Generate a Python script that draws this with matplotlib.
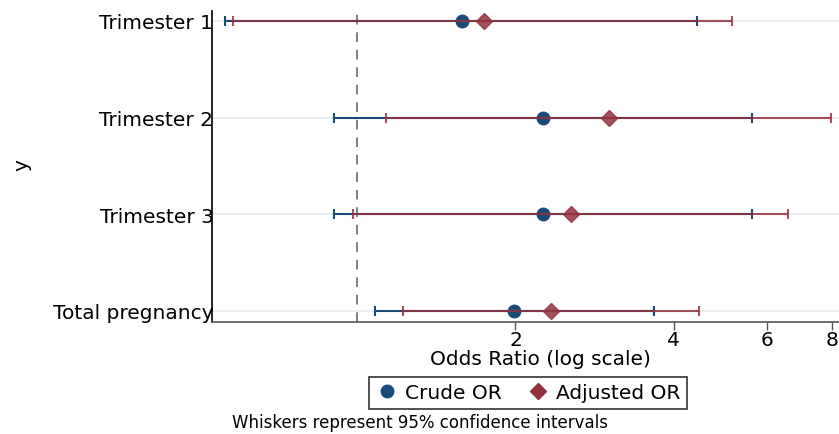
import matplotlib
matplotlib.use('Agg')
import matplotlib.pyplot as plt
from matplotlib.lines import Line2D

labels = ['Trimester 1', 'Trimester 2', 'Trimester 3', 'Total pregnancy']
ypos = [3, 2, 1, 0]

crude_or = [1.585, 2.26, 2.26, 1.99]
crude_lo = [0.562, 0.904, 0.904, 1.08]
crude_hi = [4.43, 5.63, 5.63, 3.66]

adj_or = [1.746, 3.01, 2.55, 2.34]
adj_lo = [0.582, 1.135, 0.984, 1.22]
adj_hi = [5.17, 7.97, 6.60, 4.46]

xticks = [2, 4, 6, 8]

blue = '#1c4a78'
red = '#93323f'

fig = plt.figure(figsize=(8.39, 4.35), dpi=100)
ax = fig.add_axes([212/839, 112/435, 627/839, 311/435])

# light horizontal guides
for y in ypos:
    ax.axhline(y, color='#e9eef2', lw=1.5, zorder=0)

ax.axvline(1, color='#808080', lw=1.4, ls=(0, (5, 4)), zorder=1)

cerr = [[c - l for c, l in zip(crude_or, crude_lo)],
        [h - c for c, h in zip(crude_or, crude_hi)]]
aerr = [[a - l for a, l in zip(adj_or, adj_lo)],
        [h - a for a, h in zip(adj_or, adj_hi)]]

ax.errorbar(crude_or, ypos, xerr=cerr, fmt='o', color=blue, ms=9,
            elinewidth=1.5, capsize=3.5, capthick=1.5, zorder=3)
ax.errorbar(adj_or, ypos, xerr=aerr, fmt='D', color=red, ms=8,
            elinewidth=1.5, capsize=3.5, capthick=1.5, alpha=0.85, zorder=4)

ax.set_xscale('log')
ax.set_xlim(0.53, 8.24)
ax.set_ylim(-0.114, 3.103)
ax.set_xticks(xticks)
ax.set_xticklabels([str(t) for t in xticks])
ax.xaxis.set_minor_locator(matplotlib.ticker.NullLocator())
ax.set_yticks(ypos)
ax.set_yticklabels(labels)
ax.tick_params(axis='y', length=0, pad=-1, labelsize=14.5)
ax.tick_params(axis='x', length=6, width=1, color='#555555', pad=0, labelsize=14.5)

for s in ['top', 'right']:
    ax.spines[s].set_visible(False)
ax.spines['left'].set_color('black')
ax.spines['left'].set_linewidth(1.2)
ax.spines['bottom'].set_color('#555555')
ax.spines['bottom'].set_linewidth(1.2)

ax.set_xlabel('Odds Ratio (log scale)', fontsize=14.5)
ax.xaxis.label.set_va('center')
ax.xaxis.set_label_coords((540 - 212) / 627, (323 - 360) / 311)
ax.set_ylabel('y', fontsize=14.5)
ax.yaxis.label.set_va('center')
ax.yaxis.set_label_coords((22 - 212) / 627, (323 - 165) / 311)

handles = [Line2D([], [], marker='o', color=blue, ls='none', ms=9),
           Line2D([], [], marker='D', color=red, ls='none', ms=8)]
leg = fig.legend(handles, ['Crude OR', 'Adjusted OR'], ncol=2,
                 loc='center', bbox_to_anchor=(528/839, 1 - 394/435),
                 fontsize=14.5, frameon=True, fancybox=False,
                 edgecolor='black', handletextpad=0.3, columnspacing=1.2,
                 borderpad=0.3, handlelength=1.2)
leg.get_frame().set_linewidth(1.2)

fig.text(420/839, 1 - 423/435, 'Whiskers represent 95% confidence intervals',
         ha='center', va='center', fontsize=12)

fig.savefig('out.png', dpi=100)
